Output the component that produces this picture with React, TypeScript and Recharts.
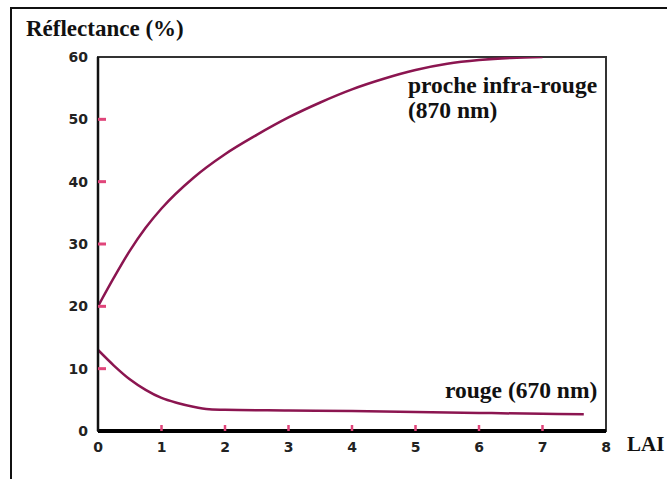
import { LineChart, Line, XAxis, YAxis, ReferenceArea } from "recharts";

const nirLai = [0, 0.25, 0.5, 0.75, 1, 1.5, 2, 2.5, 3, 3.5, 4, 4.5, 5, 5.5, 6, 6.5, 7];
const nirValues = [20, 24.6, 28.9, 32.6, 35.7, 40.6, 44.4, 47.5, 50.3, 52.7, 54.8, 56.5, 57.9, 58.9, 59.5, 59.85, 60];

const redLai = [0, 0.25, 0.5, 0.75, 1, 1.25, 1.5, 1.75, 2, 3, 4, 5, 6, 7, 7.65];
const redValues = [13, 10.5, 8.3, 6.6, 5.3, 4.5, 3.9, 3.5, 3.4, 3.3, 3.2, 3.05, 2.9, 2.75, 2.7];

const xTicks = [0, 1, 2, 3, 4, 5, 6, 7, 8];
const yTicks = [0, 10, 20, 30, 40, 50, 60];

const nirData = nirLai.map((lai, i) => ({ lai, r: nirValues[i] }));
const redData = redLai.map((lai, i) => ({ lai, r: redValues[i] }));

const CURVE = "#8b1550";
const TICK = "#e0457a";
const SERIF = "'Liberation Serif', 'Times New Roman', serif";
const SANS = "'DejaVu Sans', Verdana, sans-serif";

function YTick({ x, y, payload }: any) {
  const v = payload.value;
  return (
    <g>
      {v !== 0 && v !== 60 && <line x1={x} x2={x + 8} y1={y} y2={y} stroke={TICK} strokeWidth={3} />}
      <text x={x - 10} y={y} textAnchor="end" dominantBaseline="central" fontFamily={SANS} fontWeight="bold" fontSize={14} fill="#222">
        {v}
      </text>
    </g>
  );
}

function XTick({ x, y, payload }: any) {
  const v = payload.value;
  return (
    <g>
      {v !== 0 && v !== 8 && <line x1={x} x2={x} y1={y - 6} y2={y} stroke={TICK} strokeWidth={2.5} />}
      <text x={x} y={y + 16} textAnchor="middle" dominantBaseline="central" fontFamily={SANS} fontWeight="bold" fontSize={14} fill="#222">
        {v}
      </text>
    </g>
  );
}

export default function App() {
  return (
    <div style={{ position: "absolute", left: 0, top: 0, width: 667, height: 479, background: "#fff" }}>
      <div
        style={{
          position: "absolute",
          left: 10,
          top: 7,
          width: 657,
          height: 472,
          borderLeft: "2px solid #111",
          borderTop: "2px solid #111",
        }}
      />
      <LineChart width={667} height={479} margin={{ top: 57, right: 61, bottom: 18, left: 0 }}>
        <ReferenceArea x1={0} x2={8} y1={0} y2={60} fill="none" stroke="#333" strokeWidth={2} ifOverflow="visible" />
        <XAxis
          type="number"
          dataKey="lai"
          domain={[0, 8]}
          ticks={xTicks}
          height={30}
          tickLine={false}
          tickSize={0}
          tickMargin={0}
          tick={<XTick />}
          axisLine={{ stroke: "#000", strokeWidth: 4 }}
          allowDataOverflow
        />
        <YAxis
          type="number"
          domain={[0, 60]}
          ticks={yTicks}
          width={98}
          tickLine={false}
          tickSize={0}
          tickMargin={0}
          tick={<YTick />}
          axisLine={{ stroke: "#111", strokeWidth: 2.5 }}
          allowDataOverflow
        />
        <Line data={nirData} dataKey="r" type="monotone" stroke={CURVE} strokeWidth={2.5} dot={false} isAnimationActive={false} />
        <Line data={redData} dataKey="r" type="monotone" stroke={CURVE} strokeWidth={2.5} dot={false} isAnimationActive={false} />
      </LineChart>
      <svg width={667} height={479} style={{ position: "absolute", left: 0, top: 0, pointerEvents: "none" }}>
        <g fontFamily={SERIF} fontWeight="bold" fill="#111">
          <text x={26} y={36} fontSize={23}>Réflectance (%)</text>
          <text x={408} y={93} fontSize={23.5}>proche infra-rouge</text>
          <text x={408} y={118} fontSize={23.5}>(870 nm)</text>
          <text x={445} y={398} fontSize={23.5}>rouge (670 nm)</text>
          <text x={627} y={451} fontSize={21}>LAI</text>
        </g>
      </svg>
    </div>
  );
}
